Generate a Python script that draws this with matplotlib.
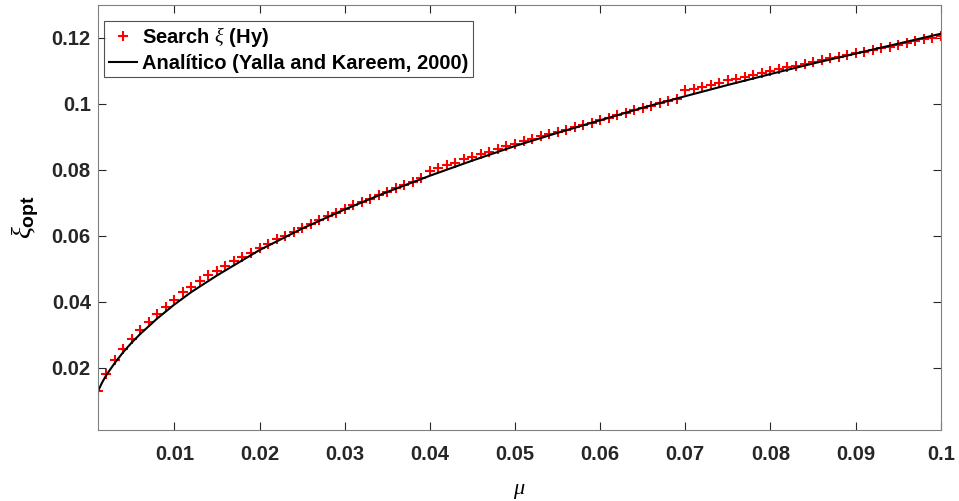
import matplotlib
matplotlib.use("Agg")
import matplotlib.pyplot as plt
import numpy as np

plt.rcParams["font.family"] = ["Liberation Sans", "DejaVu Sans"]
plt.rcParams["mathtext.fontset"] = "custom"
plt.rcParams["mathtext.rm"] = "Liberation Sans"
plt.rcParams["mathtext.it"] = "Liberation Serif:italic"
plt.rcParams["mathtext.bf"] = "Liberation Sans:bold"

# search results (red markers): mu = 0.001 ... 0.100
mu_search = np.arange(1, 101) / 1000.0
xi_search = [
    0.0129, 0.0183, 0.0223, 0.0258, 0.0287, 0.0314, 0.0338, 0.0362, 0.0384, 0.0405,
    0.0430, 0.0445, 0.0463, 0.0480, 0.0494, 0.0509, 0.0523, 0.0536, 0.0548, 0.0562,
    0.0575, 0.0589, 0.0599, 0.0613, 0.0625, 0.0637, 0.0648, 0.0659, 0.0670, 0.0681,
    0.0692, 0.0703, 0.0713, 0.0723, 0.0734, 0.0744, 0.0754, 0.0763, 0.0775, 0.0797,
    0.0806, 0.0814, 0.0822, 0.0832, 0.0840, 0.0848, 0.0855, 0.0863, 0.0871, 0.0879,
    0.0886, 0.0893, 0.0901, 0.0908, 0.0915, 0.0922, 0.0929, 0.0935, 0.0942, 0.0951,
    0.0958, 0.0967, 0.0973, 0.0980, 0.0987, 0.0993, 0.1001, 0.1007, 0.1015, 0.1042,
    0.1046, 0.1052, 0.1058, 0.1064, 0.1071, 0.1076, 0.1081, 0.1087, 0.1092, 0.1098,
    0.1104, 0.1110, 0.1115, 0.1121, 0.1126, 0.1133, 0.1138, 0.1143, 0.1148, 0.1153,
    0.1158, 0.1164, 0.1169, 0.1173, 0.1179, 0.1185, 0.1189, 0.1195, 0.1200, 0.1205,
]

# analytic curve (black line)
mu_an = [0.001, 0.0015, 0.002, 0.003, 0.004, 0.005, 0.006, 0.008, 0.010, 0.012,
         0.015, 0.020, 0.025, 0.030, 0.035, 0.040, 0.045, 0.050, 0.055, 0.060,
         0.065, 0.070, 0.075, 0.080, 0.085, 0.090, 0.095, 0.100]
xi_an = [0.0128, 0.0155, 0.0178, 0.0215, 0.0248, 0.0277, 0.0303, 0.0350, 0.0392, 0.0430,
         0.0480, 0.0557, 0.0622, 0.0680, 0.0733, 0.0782, 0.0828, 0.0872, 0.0912, 0.0950,
         0.0988, 0.1023, 0.1057, 0.1090, 0.1122, 0.1152, 0.1182, 0.1212]

x_ticks = [0.01, 0.02, 0.03, 0.04, 0.05, 0.06, 0.07, 0.08, 0.09, 0.1]
x_ticklabels = ["0.01", "0.02", "0.03", "0.04", "0.05", "0.06", "0.07", "0.08", "0.09", "0.1"]
y_ticks = [0.02, 0.04, 0.06, 0.08, 0.1, 0.12]
y_ticklabels = ["0.02", "0.04", "0.06", "0.08", "0.1", "0.12"]

fig = plt.figure(figsize=(9.59, 5.01), dpi=100)
ax = fig.add_axes([0.1019, 0.1417, 0.8791, 0.8489])

ax.plot(mu_search, xi_search, "+", color="red", markersize=7, markeredgewidth=1.5,
        label=r"Search $\xi$ (Hy)")
ax.plot(mu_an, xi_an, "-", color="black", linewidth=1.5,
        label="Analítico (Yalla and Kareem, 2000)")

ax.set_xlim(0.001, 0.1)
ax.set_ylim(0.0012, 0.13)
ax.set_xticks(x_ticks)
ax.set_xticklabels(x_ticklabels, fontweight="bold")
ax.set_yticks(y_ticks)
ax.set_yticklabels(y_ticklabels, fontweight="bold")

ax.tick_params(direction="in", length=6, width=0.8, top=True, right=True,
               labelsize=14.5, colors="#262626")
ax.tick_params(axis="x", pad=11)
ax.tick_params(axis="y", pad=5)
for s in ax.spines.values():
    s.set_color("#808080")
    s.set_linewidth(0.8)

ax.set_xlabel(r"$\mu$", fontsize=16, labelpad=11)
ax.set_ylabel(r"$\xi_{\mathbf{opt}}$", fontsize=20, labelpad=8)

leg = ax.legend(loc="upper left", bbox_to_anchor=(0.008, 0.962), borderaxespad=0,
                prop={"size": 14.5, "weight": "bold"}, frameon=True, fancybox=False,
                handlelength=1.4, handletextpad=0.25, borderpad=0.22, labelspacing=0.22)
leg.get_frame().set_edgecolor("#262626")
leg.get_frame().set_linewidth(0.8)

fig.savefig("out.png", dpi=100)
